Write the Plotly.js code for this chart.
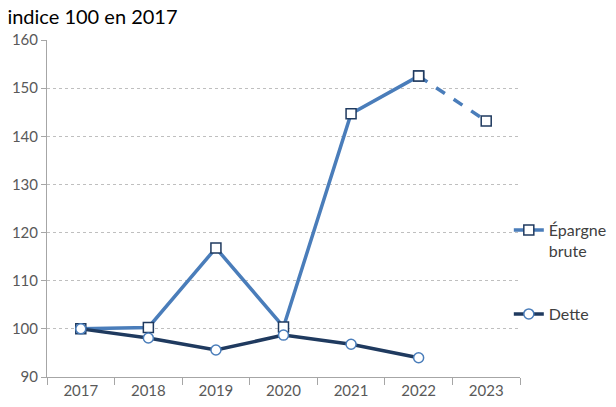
<!DOCTYPE html>
<html><head><meta charset="utf-8">
<script src="https://cdn.plot.ly/plotly-3.0.1.min.js"></script>
<style>html,body{margin:0;padding:0;background:#fff}#c{width:616px;height:407px}</style>
</head><body><div id="c"></div>
<script>
const years = ["2017","2018","2019","2020","2021","2022","2023"];
const epargne = [100, 100.3, 116.8, 100.4, 144.7, 152.5, 143.2];
const dette = [100, 98.1, 95.6, 98.7, 96.8, 94.0];
const lastReal = 5; // index of last non-forecast year for épargne

const epSolid = epargne.map((v,i)=> i<=lastReal ? v : null);
const epDash = epargne.map((v,i)=> i>=lastReal ? v : null);

const blue = "#4A7DBA", navy = "#1F3A5F";
const fam = "Lato, 'Open Sans', sans-serif";
const traces = [
  {x: years, y: epDash, type:"scatter", mode:"lines+markers", showlegend:false,
   line:{color:blue, width:3.5, dash:"dash"},
   marker:{symbol:"square", size:10, color:"#fff", line:{color:navy, width:1.5}}},
  {x: years, y: epSolid, type:"scatter", mode:"lines+markers", name:"Épargne<br>brute",
   line:{color:blue, width:3.5},
   marker:{symbol:"square", size:10, color:"#fff", line:{color:navy, width:1.5}}, legend:"legend"},
  {x: years.slice(0, dette.length), y: dette, type:"scatter", mode:"lines+markers", name:"Dette",
   line:{color:navy, width:3.5},
   marker:{symbol:"circle", size:10, color:"#fff", line:{color:blue, width:1.5}}, legend:"legend2"}
];
const legendFont = {family:fam, size:16, color:"#404040"};
const layout = {
  width:616, height:407,
  margin:{l:47, r:96, t:40, b:30, autoexpand:false},
  paper_bgcolor:"#fff", plot_bgcolor:"#fff",
  title:{text:"indice 100 en 2017", xref:"container", yref:"container", x:0.012, xanchor:"left",
         y:0.958, yanchor:"middle", font:{family:fam, size:20, color:"#000"}},
  xaxis:{type:"category", range:[-0.5,6.5], showline:true, linecolor:"#A6A6A6", linewidth:1,
         ticks:"outside", ticklen:7, tickcolor:"#A6A6A6", tickson:"boundaries", showgrid:false,
         tickfont:{family:fam, size:15, color:"#595959"}, fixedrange:true},
  yaxis:{range:[90,160], dtick:10, tick0:90, showline:true, linecolor:"#A6A6A6", linewidth:1,
         ticks:"outside", ticklen:5, tickcolor:"#A6A6A6", showgrid:true, gridcolor:"#BFBFBF", griddash:"dot",
         gridwidth:1, zeroline:false,
         tickfont:{family:fam, size:15, color:"#595959"}, fixedrange:true},
  legend:{xref:"container", yref:"container", x:0.826, xanchor:"left", y:1-213/407, yanchor:"top", valign:"top",
          font:legendFont, bgcolor:"rgba(0,0,0,0)"},
  legend2:{xref:"container", yref:"container", x:0.826, xanchor:"left", y:1-297/407, yanchor:"top",
          font:legendFont, bgcolor:"rgba(0,0,0,0)"},
  showlegend:true
};
Plotly.newPlot("c", traces, layout, {staticPlot:true, displayModeBar:false});
</script></body></html>
